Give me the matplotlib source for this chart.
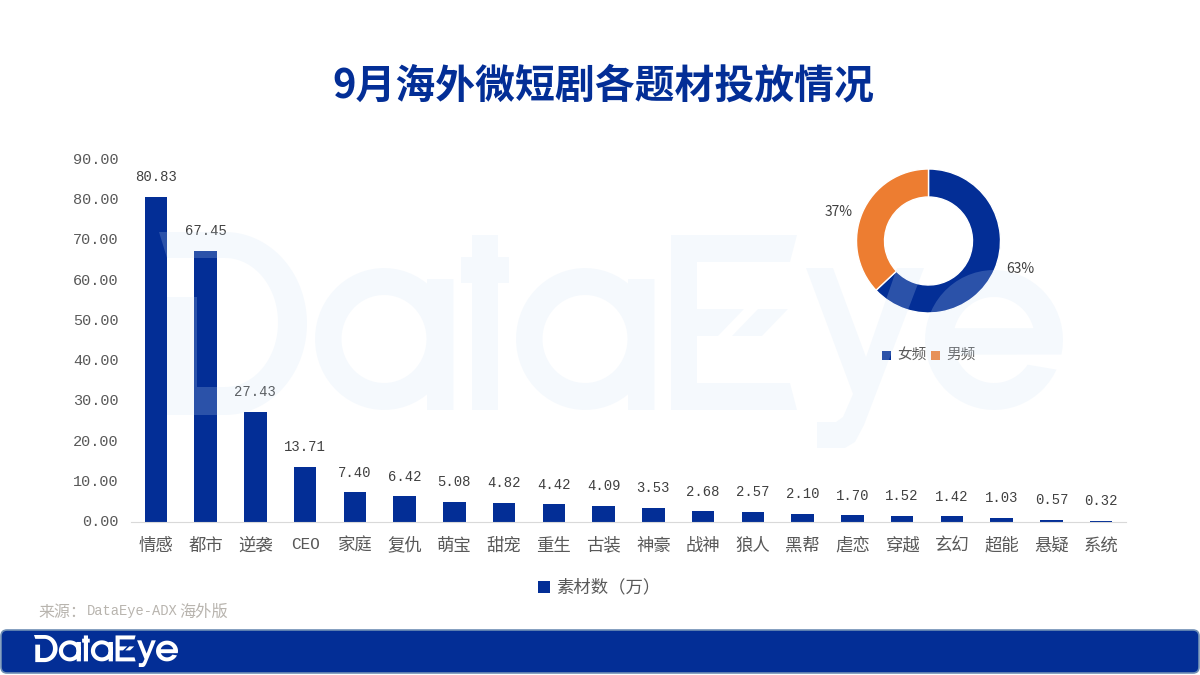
import matplotlib
matplotlib.use("Agg")
import matplotlib.pyplot as plt
import numpy as np
from matplotlib.patches import FancyBboxPatch, PathPatch, Rectangle
from matplotlib.path import Path
from matplotlib.transforms import Affine2D, IdentityTransform, ScaledTranslation

W, H = 1200, 675
NAVY = "#032E96"
ORANGE = "#ED7D31"
CJK = "Noto Sans CJK SC"
MONO = "Liberation Mono"

TITLE = "9月海外微短剧各题材投放情况"
categories = ["情感", "都市", "逆袭", "CEO", "家庭", "复仇", "萌宝", "甜宠", "重生", "古装",
              "神豪", "战神", "狼人", "黑帮", "虐恋", "穿越", "玄幻", "超能", "悬疑", "系统"]
values = [80.83, 67.45, 27.43, 13.71, 7.40, 6.42, 5.08, 4.82, 4.42, 4.09,
          3.53, 2.68, 2.57, 2.10, 1.70, 1.52, 1.42, 1.03, 0.57, 0.32]
y_ticks = [0, 10, 20, 30, 40, 50, 60, 70, 80, 90]
pie_labels = ["女频", "男频"]
pie_values = [63, 37]


def px_box(x0, y0, x1, y1):
    # pixel box measured from the top left -> figure fractions
    return [x0 / W, 1 - y1 / H, (x1 - x0) / W, (y1 - y0) / H]


def px_text(x, y, s, **kw):
    kw.setdefault("va", "center")
    return fig.text(x / W, 1 - y / H, s, **kw)


def arc(cx, cy, rx, ry, a0, a1, n=60):
    a = np.radians(np.linspace(a0, a1, n))
    return np.column_stack([cx + rx * np.cos(a), cy - ry * np.sin(a)])


def poly(pts, hole=False):
    # orient outlines one way and holes the other so non-zero fill works
    pts = np.asarray(pts, dtype=float)
    x, y = pts[:, 0], pts[:, 1]
    area = np.sum(x * np.roll(y, -1) - np.roll(x, -1) * y)
    if (area > 0) != hole:
        pts = pts[::-1]
    return Path(np.vstack([pts, pts[:1]]), closed=True)


def rect(x0, y0, x1, y1):
    return poly([(x0, y0), (x1, y0), (x1, y1), (x0, y1)])


def logo_path():
    # DataEye wordmark traced in the pixel frame of the big watermark
    parts = []
    # D with the notched stem
    parts.append(poly(np.vstack([
        [(159, 232)], arc(225, 323.5, 82, 91.5, 90, -90), [(167, 415), (167, 297), (197, 297), (197, 387)],
        arc(225, 322.5, 53, 64.5, -90, 90), [(167, 258)],
    ])))
    # both a's
    for cx, stem in [(384, 427), (585, 628)]:
        parts.append(poly(arc(cx, 339, 69, 71, 0, 359)))
        parts.append(poly(arc(cx, 339, 42.5, 44, 0, 359), hole=True))
        parts.append(rect(stem, 279, stem + 26.5, 410))
    # t
    parts.append(rect(472, 235, 498, 410))
    parts.append(rect(461, 257, 509, 283))
    # E and its slash
    parts.append(poly([(671, 235), (797, 235), (790, 262), (697, 262), (697, 309), (744, 309), (718, 336),
                       (697, 336), (697, 383), (790, 383), (797, 410), (671, 410)]))
    parts.append(poly([(758, 309), (788, 309), (762, 336), (732, 336)]))
    # y
    parts.append(poly([(806, 268), (833, 268), (866, 357), (897, 268), (924, 268), (864, 425), (855, 442),
                       (845, 448), (817, 448), (817, 422), (836, 422), (843, 417), (853, 394)]))
    # e
    parts.append(poly(np.vstack([arc(994, 340, 69, 70, -12, 335), arc(994, 340, 41, 43, 325, 200)])))
    parts.append(poly(arc(994, 340, 41, 43, 16, 164), hole=True))
    return Path.make_compound_path(*parts)


def draw_logo(x0, y0, x1, y1, color, alpha=1.0, zorder=5):
    path = logo_path()
    bb = path.get_extents()
    tr = (Affine2D().translate(-bb.x0, -bb.y0)
          .scale((x1 - x0) / bb.width, (y1 - y0) / bb.height)
          .translate(x0, y0)
          .scale(1, -1).translate(0, H))
    fig.add_artist(PathPatch(path, transform=tr + IdentityTransform(), facecolor=color,
                             edgecolor="none", alpha=alpha, zorder=zorder))


fig = plt.figure(figsize=(12, 6.75), dpi=100, facecolor="white")

# bars
ax = fig.add_axes(px_box(131, 160, 1126, 522))
ax.set_facecolor("none")
bars = ax.bar(range(len(values)), values, width=0.45, color=NAVY)
ax.set_xlim(-0.5, len(values) - 0.5)
ax.set_ylim(0, 90)
for s in ["top", "right", "left"]:
    ax.spines[s].set_visible(False)
ax.spines["bottom"].set_color("#D9D9D9")
ax.tick_params(length=0)
ax.tick_params(axis="x", pad=10.5)
ax.tick_params(axis="y", pad=8.8)
ax.set_yticks(y_ticks, [f"{v:.2f}" for v in y_ticks], family=MONO, fontsize=11, color="#595959")
ax.set_xticks(range(len(categories)), categories, family=CJK, fontsize=12.5, color="#595959")
for lab in ax.get_xticklabels():
    if lab.get_text().isascii():
        lab.set_family(MONO)
        lab.set_fontsize(11.5)
# nudge the value ticks up a little
nudge = ScaledTranslation(0, 1.5 / 100, fig.dpi_scale_trans)
for lab in ax.get_yticklabels():
    lab.set_transform(lab.get_transform() + nudge)
ax.bar_label(bars, fmt="%.2f", padding=9, family=MONO, fontsize=10, color="#404040")

# donut
pax = fig.add_axes(px_box(856.5, 169, 1000.5, 313))
pax.set_facecolor("none")
pax.pie(pie_values, colors=[NAVY, ORANGE], startangle=90, counterclock=False, radius=1,
        wedgeprops=dict(width=1 - 44 / 72, edgecolor="white", linewidth=1.0))
pax.set_xlim(-1, 1)
pax.set_ylim(-1, 1)
px_text(1020.5, 269, f"{pie_values[0]}%", ha="center", family=CJK, fontsize=10, color="#404040")
px_text(838.5, 212, f"{pie_values[1]}%", ha="center", family=CJK, fontsize=10, color="#404040")

# donut legend
for x, c, lab in zip([882, 931], [NAVY, ORANGE], pie_labels):
    fig.add_artist(Rectangle((x, H - 360), 9, 9, transform=IdentityTransform(),
                             facecolor=c, edgecolor="none"))
    px_text(x + 15, 355, lab, family=CJK, fontsize=10.5, color="#595959")

# bar legend
fig.add_artist(Rectangle((538, H - 593), 12, 12, transform=IdentityTransform(),
                         facecolor=NAVY, edgecolor="none"))
px_text(556, 587, "素材数（万）", family=CJK, fontsize=12.5, color="#595959")

# title
px_text(603, 86, TITLE, ha="center", family=CJK, weight="bold", fontsize=28.7, color=NAVY)

# source line
px_text(38, 612, "来源：", family=CJK, fontsize=11.5, color="#B8B4AE")
px_text(87, 611, "DataEye-ADX", family=MONO, fontsize=9.9, color="#B8B4AE")
px_text(179, 612, "海外版", family=CJK, fontsize=11.7, color="#B8B4AE")

# footer band and logo
fig.add_artist(FancyBboxPatch((7, 8), W - 14, 31, boxstyle="round,pad=6",
                              transform=IdentityTransform(), facecolor=NAVY,
                              edgecolor="#6F8FB5", linewidth=1.2, zorder=6))
draw_logo(34, 635, 178, 667, "white", zorder=7)

# watermark sits over everything, lightens the marks under it
draw_logo(159, 232, 1063, 448, "#CFE3F7", alpha=0.2, zorder=5)

fig.savefig("out.png", dpi=100, facecolor="white")
